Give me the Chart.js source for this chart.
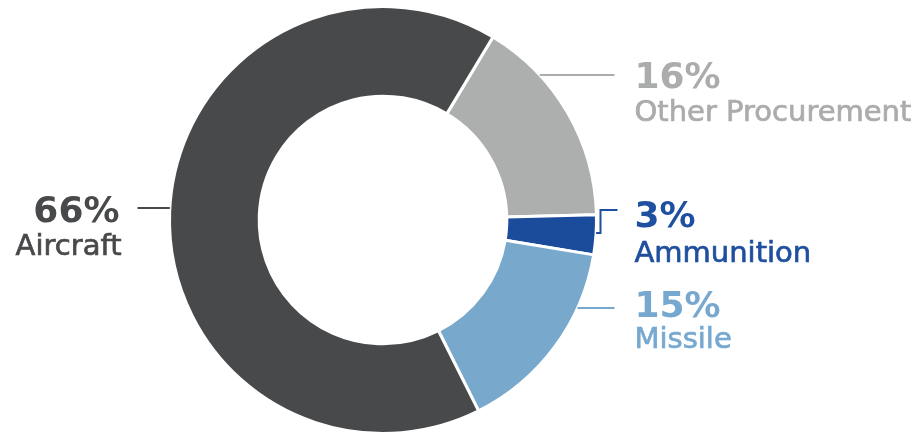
<!DOCTYPE html>
<html>
<head>
<meta charset="utf-8">
<script src="https://cdn.jsdelivr.net/npm/chart.js@4"></script>
<style>
  html, body { margin: 0; padding: 0; background: #fff; }
  #wrap { width: 924px; height: 440px; }
</style>
</head>
<body>
<div id="wrap"><canvas id="myChart" width="924" height="440"></canvas></div>
<script>
// data
const categories = ['Other Procurement', 'Ammunition', 'Missile', 'Aircraft'];
const shares = [16, 3, 15, 66];

const sliceColors = ['#adafaf', '#1b4c9c', '#78a9cd', '#48494b'];
const textColors = ['#abacac', '#1f4f9f', '#77a9d0', '#48494b'];

// label placement, offsets from the doughnut centre
const labelLayout = [
  { side: 'right', lineY: -145, pctY: -132, nameY: -99 },
  { side: 'right', lineY: 13, elbowY: -10, pctY: 7, nameY: 42 },
  { side: 'right', lineY: 88, pctY: 97, nameY: 128 },
  { side: 'left', lineY: -12, pctY: 2, nameY: 35 }
];

const calloutPlugin = {
  id: 'callouts',
  afterDraw(chart) {
    const ctx = chart.ctx;
    const meta = chart.getDatasetMeta(0);
    meta.data.forEach((arc, i) => {
      const { x: cx, y: cy, outerRadius: r } = arc.getProps(['x', 'y', 'outerRadius'], true);
      const L = labelLayout[i];
      const dy = L.lineY;
      const edge = Math.sqrt(Math.max(r * r - dy * dy, 0));
      ctx.save();
      ctx.strokeStyle = textColors[i];
      ctx.lineWidth = 2;
      ctx.fillStyle = textColors[i];
      ctx.textBaseline = 'alphabetic';
      ctx.beginPath();
      let tx;
      if (L.side === 'left') {
        ctx.moveTo(cx - edge, cy + dy);
        ctx.lineTo(cx - r - 32, cy + dy);
        ctx.stroke();
        ctx.textAlign = 'right';
        tx = cx - r - 50;
      } else {
        ctx.moveTo(cx + edge, cy + dy);
        if (L.elbowY !== undefined) {
          ctx.lineTo(cx + r + 4, cy + dy);
          ctx.lineTo(cx + r + 4, cy + L.elbowY);
          ctx.lineTo(cx + r + 21, cy + L.elbowY);
        } else {
          ctx.lineTo(cx + r + 18, cy + dy);
        }
        ctx.stroke();
        ctx.textAlign = 'left';
        tx = cx + r + 38;
      }
      ctx.font = 'bold 36px "DejaVu Sans"';
      ctx.fillText(shares[i] + '%', tx, cy + L.pctY);
      // a touch of stroke to get a medium weight
      ctx.font = '29px "DejaVu Sans"';
      ctx.lineWidth = 0.7;
      const nx = L.side === 'left' ? tx + 2 : tx;
      ctx.fillText(categories[i], nx, cy + L.nameY);
      ctx.strokeText(categories[i], nx, cy + L.nameY);
      ctx.restore();
    });
  }
};

const ctx = document.getElementById('myChart').getContext('2d');
new Chart(ctx, {
  type: 'doughnut',
  data: {
    labels: categories,
    datasets: [{
      data: shares,
      backgroundColor: sliceColors,
      borderColor: '#ffffff',
      borderWidth: 3
    }]
  },
  options: {
    responsive: false,
    animation: false,
    rotation: 31,
    cutout: '58%',
    layout: { padding: { left: 168, right: 326, top: 4, bottom: 4 } },
    plugins: {
      legend: { display: false },
      tooltip: { enabled: false }
    }
  },
  plugins: [calloutPlugin]
});
</script>
</body>
</html>
